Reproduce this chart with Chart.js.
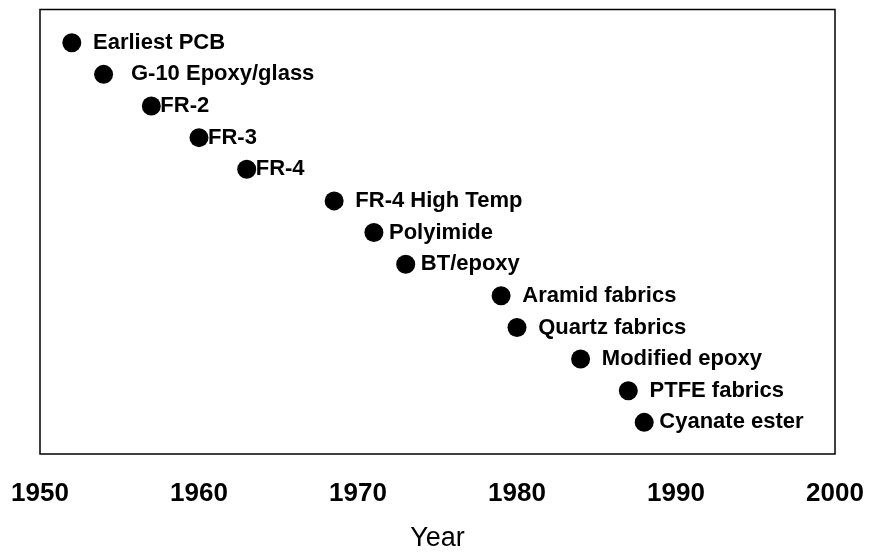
<!DOCTYPE html>
<html>
<head>
<meta charset="utf-8">
<title>PCB laminate materials timeline</title>
<script src="https://cdn.jsdelivr.net/npm/chart.js@4.4.1/dist/chart.umd.min.js"></script>
<style>
    html, body { margin: 0; padding: 0; background: #fff; }
    #chartBox { width: 871px; height: 552px; }
</style>
</head>
<body>
<div id="chartBox"><canvas id="timelineChart"></canvas></div>
<script>
// Materials, in order of introduction (leading spaces as in the original labels)
const materials = [
    '  Earliest PCB',
    '   G-10 Epoxy/glass',
    'FR-2',
    'FR-3',
    'FR-4',
    '  FR-4 High Temp',
    ' Polyimide',
    ' BT/epoxy',
    '  Aramid fabrics',
    '  Quartz fabrics',
    '  Modified epoxy',
    '  PTFE fabrics',
    ' Cyanate ester'
];

// Year of introduction
const years = [1952, 1954, 1957, 1960, 1963, 1968.5, 1971, 1973, 1979, 1980, 1984, 1987, 1988];

// Row of each material (top row is highest)
const rows = [13, 12, 11, 10, 9, 8, 7, 6, 5, 4, 3, 2, 1];

// X axis ticks
const yearTicks = [1950, 1960, 1970, 1980, 1990, 2000];

const FONT = "'Liberation Sans', Arial, sans-serif";

// Frame around the plot area
const frameBox = {
    id: 'frameBox',
    afterDraw(chart) {
        const { ctx, chartArea } = chart;
        ctx.save();
        ctx.strokeStyle = '#000';
        ctx.lineWidth = 1.5;
        ctx.strokeRect(chartArea.left, chartArea.top, chartArea.right - chartArea.left, chartArea.bottom - chartArea.top);
        ctx.restore();
    }
};

// Material names next to each point
const pointLabels = {
    id: 'pointLabels',
    afterDatasetsDraw(chart) {
        const ctx = chart.ctx;
        const meta = chart.getDatasetMeta(0);
        ctx.save();
        ctx.font = 'bold 22px ' + FONT;
        ctx.fillStyle = '#000';
        ctx.textAlign = 'left';
        ctx.textBaseline = 'middle';
        meta.data.forEach((pt, i) => {
            ctx.fillText(materials[i], pt.x + 9, pt.y);
        });
        ctx.restore();
    }
};

document.addEventListener('DOMContentLoaded', () => {
    const ctx = document.getElementById('timelineChart');

    new Chart(ctx, {
        type: 'scatter',
        data: {
            datasets: [{
                data: years.map((y, i) => ({ x: y, y: rows[i] })),
                backgroundColor: '#000',
                borderWidth: 0,
                pointRadius: 9.5,
                pointHoverRadius: 9.5
            }]
        },
        options: {
            responsive: true,
            maintainAspectRatio: false,
            animation: false,
            layout: {
                padding: { left: 40, right: 36, top: 7, bottom: 0 }
            },
            plugins: {
                legend: { display: false },
                tooltip: { enabled: false }
            },
            scales: {
                x: {
                    type: 'linear',
                    min: yearTicks[0],
                    max: yearTicks[yearTicks.length - 1],
                    afterBuildTicks: axis => {
                        axis.ticks = yearTicks.map(v => ({ value: v }));
                    },
                    // keep the plot box where the original has it
                    afterFit: axis => {
                        axis.paddingLeft = 0;
                        axis.paddingRight = 0;
                        axis.height = 98;
                    },
                    grid: { display: false, drawTicks: false },
                    border: { display: false },
                    ticks: {
                        padding: 24,
                        color: '#000',
                        font: { family: FONT, size: 26, weight: 'bold' },
                        maxRotation: 0,
                        callback: v => String(v)
                    },
                    title: {
                        display: true,
                        text: 'Year',
                        color: '#000',
                        font: { family: FONT, size: 27, lineHeight: 1 },
                        padding: { top: 0, bottom: 0 }
                    }
                },
                y: {
                    display: false,
                    min: 0,
                    max: 14.05
                }
            }
        },
        plugins: [frameBox, pointLabels]
    });
});
</script>
</body>
</html>
